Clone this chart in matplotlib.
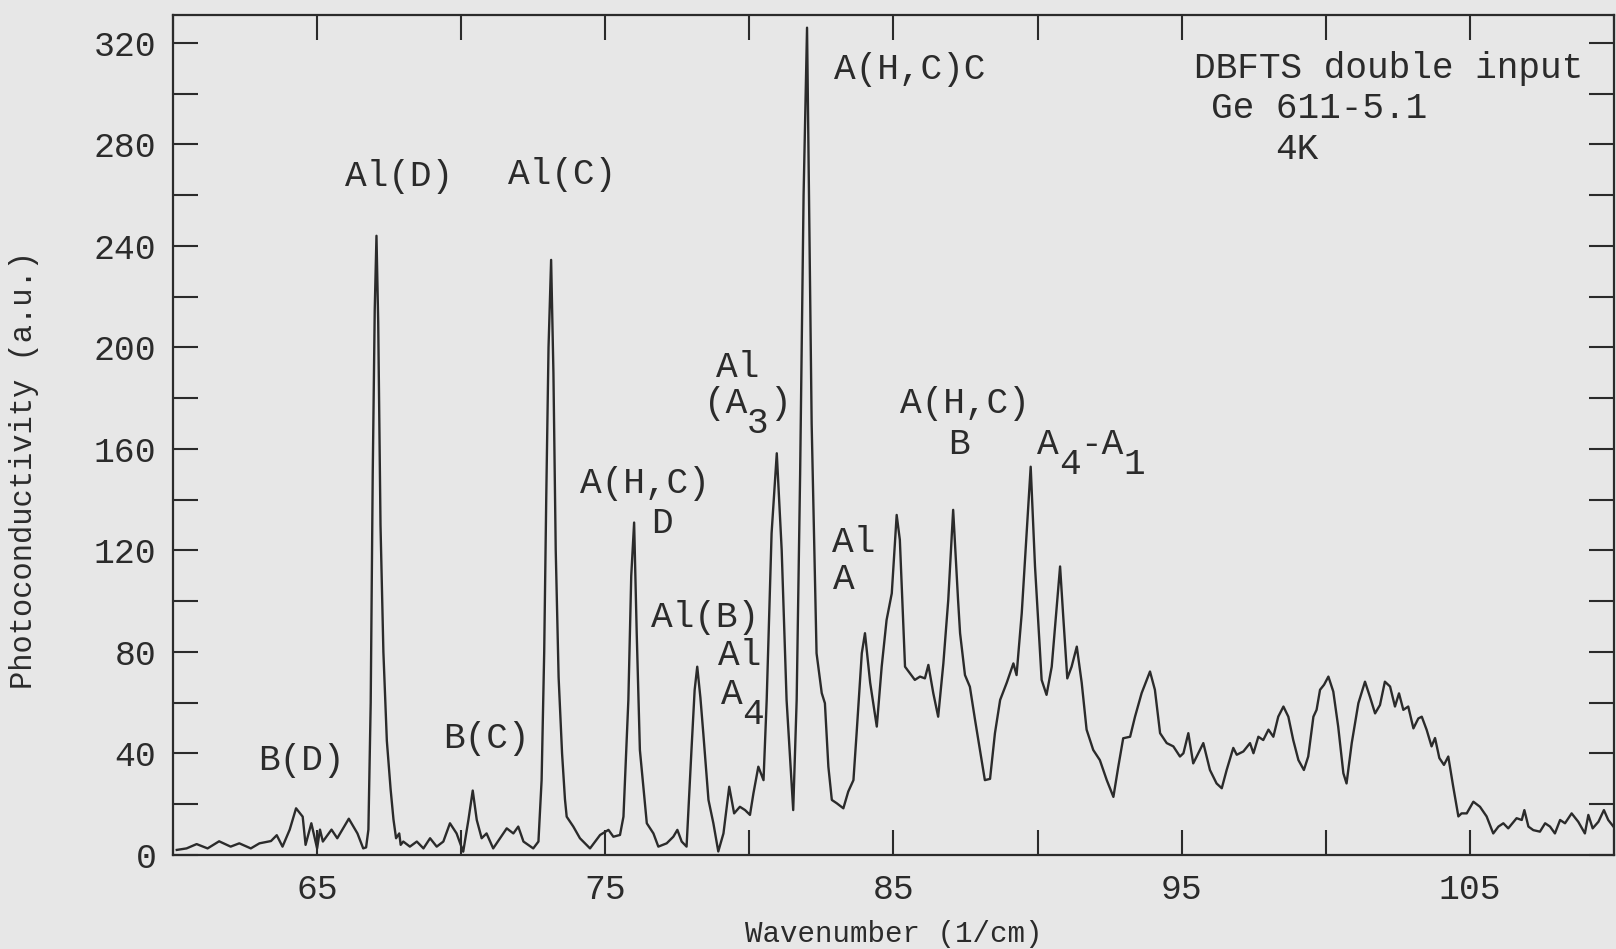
# Photoconductivity spectrum of Ge 611-5.1 (DBFTS double input, 4K).
import matplotlib
matplotlib.use("Agg")
import matplotlib.pyplot as plt
from matplotlib.ticker import MultipleLocator

# wavenumber (1/cm) and signal (a.u.)
wavenumber = [
    60.13, 60.47, 60.82, 61.2, 61.6, 62.0, 62.3, 62.7, 63.0, 63.4, 63.6, 63.8,
    64.05, 64.27, 64.5, 64.6, 64.8, 65.0, 65.1, 65.2, 65.5, 65.7, 66.1, 66.4,
    66.6, 66.7, 66.78, 66.86, 66.93, 67.0, 67.06, 67.12, 67.2, 67.3, 67.42,
    67.55, 67.65, 67.74, 67.85, 67.9, 67.99, 68.22, 68.46, 68.69, 68.92, 69.15,
    69.38, 69.61, 69.84, 70.07, 70.25, 70.4, 70.54, 70.71, 70.88, 71.11, 71.35,
    71.58, 71.81, 71.98, 72.16, 72.5, 72.68, 72.79, 72.88, 72.95, 73.03, 73.12,
    73.2, 73.28, 73.38, 73.5, 73.6, 73.66, 73.89, 74.12, 74.47, 74.82, 75.11,
    75.28, 75.51, 75.63, 75.8, 75.9, 76.0, 76.09, 76.2, 76.44, 76.67, 76.84,
    77.13, 77.36, 77.5, 77.65, 77.82, 77.99, 78.1, 78.19, 78.3, 78.4, 78.58,
    78.75, 78.92, 79.1, 79.3, 79.47, 79.67, 79.85, 80.02, 80.14, 80.31, 80.49,
    80.6, 80.77, 80.95, 81.12, 81.29, 81.52, 81.64, 81.76, 81.88, 82.0, 82.1,
    82.16, 82.33, 82.51, 82.62, 82.74, 82.86, 83.03, 83.26, 83.43, 83.61, 83.72,
    83.9, 84.01, 84.19, 84.42, 84.59, 84.76, 84.94, 85.11, 85.22, 85.4, 85.57,
    85.74, 85.92, 86.09, 86.21, 86.38, 86.55, 86.73, 86.9, 87.07, 87.24, 87.31,
    87.48, 87.65, 87.83, 88.0, 88.17, 88.35, 88.52, 88.7, 88.93, 89.16, 89.27,
    89.45, 89.76, 89.91, 90.14, 90.31, 90.49, 90.78, 90.89, 91.03, 91.18, 91.36,
    91.53, 91.7, 91.93, 92.16, 92.4, 92.63, 92.8, 92.97, 93.21, 93.38, 93.61,
    93.9, 94.07, 94.25, 94.48, 94.71, 94.94, 95.06, 95.23, 95.4, 95.52, 95.75,
    95.98, 96.21, 96.39, 96.56, 96.79, 96.91, 97.14, 97.37, 97.49, 97.66, 97.83,
    98.01, 98.18, 98.35, 98.53, 98.7, 98.87, 99.05, 99.24, 99.39, 99.57, 99.68,
    99.8, 99.94, 100.09, 100.26, 100.43, 100.61, 100.72, 100.9, 101.13, 101.36,
    101.53, 101.71, 101.88, 102.05, 102.23, 102.4, 102.54, 102.69, 102.86,
    103.04, 103.21, 103.33, 103.5, 103.67, 103.79, 103.94, 104.1, 104.25,
    104.42, 104.6, 104.71, 104.89, 105.12, 105.35, 105.58, 105.81, 105.99,
    106.16, 106.33, 106.62, 106.8, 106.89, 107.03, 107.2, 107.43, 107.61,
    107.78, 107.95, 108.13, 108.3, 108.53, 108.76, 108.99, 109.11, 109.26,
    109.46, 109.65, 109.8, 109.98,
]
signal = [
    2.0, 2.6, 4.3, 2.6, 5.4, 3.3, 4.6, 2.6, 4.6, 5.5, 7.8, 3.3,
    10.0, 18.4, 15.1, 4.0, 12.5, 2.6, 10.0, 5.3, 10.0, 6.6, 14.3, 8.5,
    2.6, 3.0, 10.0, 60.0, 150.0, 215.0, 244.0, 210.0, 130.0, 80.0, 45.0,
    26.0, 14.0, 6.6, 8.5, 4.0, 5.3, 3.3, 5.3, 2.6, 6.6, 3.3,
    5.3, 12.5, 8.5, 1.3, 13.8, 25.4, 13.8, 6.6, 8.5, 2.6, 6.6,
    10.5, 8.5, 11.2, 5.3, 2.6, 5.3, 29.5, 80.0, 140.0, 200.0, 234.5,
    190.0, 120.0, 70.0, 40.0, 22.0, 15.1, 11.2, 6.6, 2.6, 7.9, 9.9,
    7.2, 7.9, 15.1, 61.0, 110.0, 131.0, 87.4, 41.4, 12.5, 8.5, 3.3,
    4.6, 7.2, 9.9, 5.3, 3.3, 41.4, 65.0, 74.2, 62.0, 48.0, 21.7,
    12.5, 1.4, 8.5, 26.9, 16.4, 19.0, 17.7, 15.8, 24.3, 34.8, 29.5,
    61.1, 126.8, 158.3, 120.2, 61.1, 17.7, 61.1, 150.0, 260.0, 326.0, 230.0,
    170.0, 79.5, 63.8, 59.8, 34.8, 21.7, 20.4, 18.4, 25.0, 29.5, 48.0,
    79.5, 87.4, 67.9, 50.6, 74.2, 92.6, 103.1, 134.0, 124.2, 74.2, 71.6,
    69.0, 70.3, 69.6, 74.9, 63.8, 54.5, 75.5, 100.5, 136.0, 100.5, 87.4,
    70.9, 66.3, 53.2, 41.4, 29.5, 30.0, 48.0, 61.1, 67.9, 75.5, 70.9,
    95.3, 153.0, 113.7, 69.0, 63.1, 74.2, 113.7, 93.9, 69.6, 74.2, 82.1,
    67.9, 49.4, 41.4, 37.4, 29.5, 22.9, 34.8, 46.0, 46.6, 54.5, 63.8,
    72.3, 65.1, 48.0, 44.1, 42.8, 38.8, 40.1, 48.0, 36.1, 38.8, 44.1,
    33.5, 28.2, 26.3, 33.5, 42.2, 39.5, 40.8, 44.1, 40.1, 46.6, 45.3,
    49.4, 46.6, 54.5, 58.5, 54.5, 45.3, 37.4, 33.5, 38.8, 54.5, 57.2,
    65.1, 67.1, 70.3, 64.4, 50.6, 32.2, 28.2, 44.1, 59.8, 68.3,
    62.4, 55.8, 59.1, 68.3, 66.4, 58.5, 63.7, 57.2, 58.5,
    49.9, 53.8, 54.5, 49.3, 42.8, 46.1, 38.2, 35.5, 38.8,
    27.0, 15.2, 16.4, 16.4, 21.0, 19.0, 15.2, 8.5, 11.2,
    12.5, 10.5, 14.5, 13.8, 17.7, 11.2, 9.8, 9.2, 12.5,
    11.2, 8.5, 13.8, 12.5, 16.4, 13.1, 8.5, 15.8, 10.5,
    13.1, 17.7, 13.8, 11.2,
]

# peak labels: (text, x, y) in data units, centred
peak_labels = [
    ("Al(D)", 67.84, 267.3),
    ("Al(C)", 73.50, 268.0),
    ("B(D)", 64.44, 37.1),
    ("B(C)", 70.86, 46.1),
    ("A(H,C)", 76.38, 146.2),
    ("D", 76.97, 130.5),
    ("Al(B)", 78.46, 93.4),
    ("Al", 79.67, 78.8),
    ("Al", 79.60, 192.0),
    ("A(H,C)C", 85.55, 309.4),
    ("Al", 83.63, 123.0),
    ("A", 83.28, 108.4),
    ("A(H,C)", 87.48, 177.8),
    ("B", 87.27, 161.6),
]
# labels with subscripts: left x, y, then pieces (text, column, is_subscript)
sub_labels = [
    (78.42, 177.8, [("(A", 0, False), ("3", 2, True), (")", 3, False)]),
    (79.01, 63.1, [("A", 0, False), ("4", 1, True)]),
    (89.98, 161.6, [("A", 0, False), ("4", 1, True), ("-A", 2, False), ("1", 4, True)]),
]
info_lines = [
    ("DBFTS double input", 102.19, 309.8),
    ("Ge 611-5.1", 99.76, 294.0),
    ("4K", 99.0, 278.0),
]

FONT = "Liberation Mono"
INK = "#2b2b2b"
BG = "#e7e7e7"
LABEL_SIZE = 26
CHAR_W = 0.6 * LABEL_SIZE  # monospace advance, points
SUB_DROP = 14              # points

plt.rcParams["font.family"] = [FONT, "DejaVu Sans Mono"]

fig = plt.figure(figsize=(16.16, 9.49), dpi=100, facecolor=BG)
ax = fig.add_axes([173 / 1616, 94 / 949, 1441 / 1616, 840 / 949])
ax.set_facecolor(BG)

ax.plot(wavenumber, signal, color=INK, lw=1.7)

ax.set_xlim(60, 110)
ax.set_ylim(0, 331)

ax.xaxis.set_major_locator(MultipleLocator(10, offset=5))
ax.xaxis.set_minor_locator(MultipleLocator(5))
ax.yaxis.set_major_locator(MultipleLocator(40))
ax.yaxis.set_minor_locator(MultipleLocator(20))

ax.tick_params(which="both", direction="in", length=18, width=1.5, color=INK,
               top=True, right=True, labelsize=25, labelcolor=INK)
ax.tick_params(axis="x", pad=13)
ax.tick_params(axis="y", pad=12)
for s in ax.spines.values():
    s.set_linewidth(1.6)
    s.set_color(INK)

ax.set_xlabel("Wavenumber (1/cm)", fontsize=21, color=INK, labelpad=10)
ax.set_ylabel("Photoconductivity (a.u.)", fontsize=22, color=INK)
ax.yaxis.set_label_coords(-0.093, 0.458)

for txt, x, y in peak_labels:
    ax.text(x, y, txt, fontsize=LABEL_SIZE, color=INK, ha="center", va="center")

for x, y, pieces in sub_labels:
    for txt, col, low in pieces:
        ax.annotate(txt, (x, y), xytext=(col * CHAR_W, -SUB_DROP if low else 0),
                    textcoords="offset points", fontsize=LABEL_SIZE, color=INK,
                    ha="left", va="center")

for txt, x, y in info_lines:
    ax.text(x, y, txt, fontsize=LABEL_SIZE, color=INK, ha="center", va="center")

fig.savefig("out.png", dpi=100, facecolor=BG)
